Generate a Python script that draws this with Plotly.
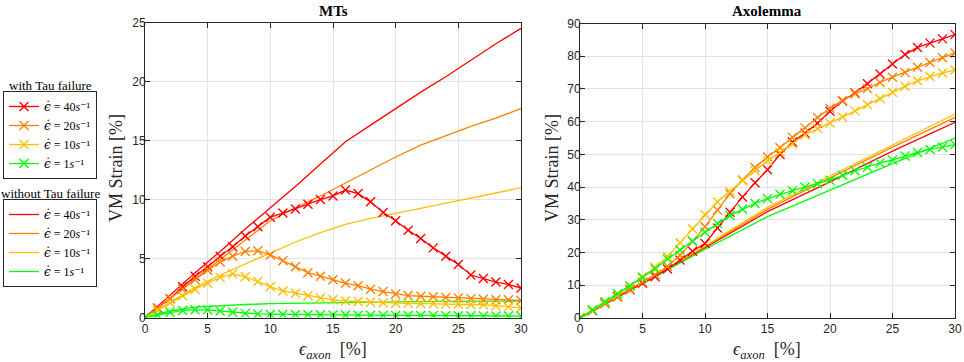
import plotly.graph_objects as go

# ---------------- data ----------------
strain_x = list(range(0, 31))

# MTs - with Tau failure (x markers)
mts_tau_40 = [0, 0.8, 1.6, 2.6, 3.5, 4.3, 5.2, 6.0, 6.9, 7.7, 8.5, 8.85, 9.2, 9.6, 10.0, 10.3, 10.8, 10.5,
              9.8, 8.9, 8.2, 7.4, 6.7, 5.9, 5.2, 4.5, 3.6, 3.3, 3.0, 2.8, 2.5]
mts_tau_20 = [0, 0.8, 1.6, 2.4, 3.2, 4.0, 4.7, 5.2, 5.6, 5.65, 5.3, 4.8, 4.3, 3.8, 3.5, 3.2, 2.9, 2.7,
              2.4, 2.2, 2.0, 1.86, 1.8, 1.75, 1.7, 1.65, 1.6, 1.55, 1.5, 1.5, 1.45]
mts_tau_10 = [0, 0.6, 1.25, 1.85, 2.4, 2.9, 3.4, 3.7, 3.45, 3.05, 2.6, 2.25, 2.05, 1.85, 1.65, 1.5, 1.4,
              1.35, 1.3, 1.25, 1.2, 1.2, 1.18, 1.16, 1.15, 1.13, 1.1, 1.08, 1.0, 0.9, 0.82]
mts_tau_1 = [0, 0.2, 0.45, 0.6, 0.65, 0.65, 0.55, 0.45, 0.35, 0.3, 0.28, 0.26, 0.25, 0.24, 0.23, 0.22,
             0.21, 0.2, 0.2, 0.19, 0.18, 0.17, 0.17, 0.16, 0.15, 0.15, 0.14, 0.13, 0.13, 0.12, 0.12]

# MTs - without Tau failure (solid)
solid_x = [0, 2, 4, 6, 8, 10, 12, 14, 16, 18, 20, 22, 24, 26, 28, 30]
mts_no_40 = [0, 1.9, 3.8, 5.6, 7.5, 9.3, 11.1, 13.0, 14.9, 16.3, 17.7, 19.1, 20.4, 21.8, 23.2, 24.5]
mts_no_20 = [0, 1.65, 3.3, 4.95, 6.6, 8.2, 9.3, 10.3, 11.4, 12.5, 13.6, 14.6, 15.4, 16.2, 16.9, 17.7]
mts_no_10 = [0, 1.3, 2.55, 3.6, 4.55, 5.5, 6.4, 7.2, 7.9, 8.4, 8.8, 9.25, 9.7, 10.1, 10.55, 11.0]
mts_no_1 = [0, 0.55, 0.88, 1.02, 1.1, 1.17, 1.21, 1.25, 1.28, 1.31, 1.33, 1.35, 1.36, 1.38, 1.39, 1.4]

# Axolemma - with Tau failure (x markers)
axo_tau_40 = [0, 2.2, 4.4, 6.5, 8.6, 10.6, 12.6, 15.0, 17.7, 20.4, 22.8, 27.5, 32.3, 37.0, 41.3, 45.3,
              50.0, 53.8, 56.5, 59.5, 63.2, 66.3, 68.8, 71.6, 74.6, 77.6, 80.5, 82.7, 84.0, 85.3, 86.6]
axo_tau_20 = [0, 2.2, 4.4, 6.6, 8.8, 11.0, 13.2, 15.8, 19.2, 23.4, 27.9, 33.0, 38.0, 42.2, 46.0, 49.2,
              52.0, 55.2, 58.1, 61.3, 64.1, 66.5, 68.5, 70.1, 72.0, 73.6, 75.0, 76.6, 78.1, 79.5, 81.0]
axo_tau_10 = [0, 2.3, 4.7, 7.1, 9.7, 12.6, 15.5, 18.8, 23.0, 27.3, 31.6, 35.5, 38.7, 42.0, 45.0, 48.0,
              50.6, 53.2, 56.0, 57.9, 59.6, 61.4, 63.3, 65.2, 67.0, 69.0, 70.8, 72.5, 73.8, 74.9, 75.8]
axo_tau_1 = [0, 2.5, 5.0, 7.4, 9.8, 12.3, 15.0, 18.0, 20.8, 23.5, 26.2, 28.9, 31.3, 33.2, 35.0, 36.5,
             37.8, 38.9, 40.0, 41.0, 42.1, 43.6, 45.0, 46.1, 47.4, 48.3, 49.5, 50.6, 51.5, 52.2, 53.0]

# Axolemma - without Tau failure (solid)
axo_solid_x = [0, 5, 10, 15, 20, 25, 30]
axo_no_40 = [0, 10.6, 21.5, 32.5, 41.6, 51.0, 59.8]
axo_no_20 = [0, 10.7, 21.8, 33.2, 42.8, 52.2, 61.3]
axo_no_10 = [0, 10.8, 22.0, 33.8, 43.4, 52.9, 62.3]
axo_no_1 = [0, 10.5, 21.0, 31.0, 39.2, 47.2, 55.0]

rate_labels = ["40", "20", "10", "1"]
colors = ["#FF0000", "#FF8000", "#FFBF00", "#00FF00"]

# ---------------- figure ----------------
W, H = 964, 362


def px(xp):
    return xp / W


def py(yp):
    return 1 - yp / H


fig = go.Figure()

serif = "Liberation Serif, DejaVu Serif, serif"
sans = "Liberation Sans, Arial, sans-serif"

mts_tau = [mts_tau_40, mts_tau_20, mts_tau_10, mts_tau_1]
mts_no = [mts_no_40, mts_no_20, mts_no_10, mts_no_1]
axo_tau = [axo_tau_40, axo_tau_20, axo_tau_10, axo_tau_1]
axo_no = [axo_no_40, axo_no_20, axo_no_10, axo_no_1]


def leg_name(r):
    return ('<span style="font-family:DejaVu Serif"><i>ϵ̇</i></span> = %s<i>s</i>⁻¹' % r)


# solid (without tau failure)
for i in range(4):
    fig.add_trace(go.Scatter(x=solid_x, y=mts_no[i], mode="lines",
                             line=dict(color=colors[i], width=1.3),
                             name=leg_name(rate_labels[i]), legend="legend2",
                             xaxis="x", yaxis="y"))
    fig.add_trace(go.Scatter(x=axo_solid_x, y=axo_no[i], mode="lines",
                             line=dict(color=colors[i], width=1.3),
                             showlegend=False, xaxis="x2", yaxis="y2"))

# with markers (with tau failure)
for i in range(4):
    mk = dict(symbol="x-thin", size=9, line=dict(color=colors[i], width=1.4), color=colors[i])
    fig.add_trace(go.Scatter(x=strain_x, y=mts_tau[i], mode="lines+markers",
                             line=dict(color=colors[i], width=1.3), marker=mk,
                             name=leg_name(rate_labels[i]), legend="legend",
                             xaxis="x", yaxis="y"))
    fig.add_trace(go.Scatter(x=strain_x, y=axo_tau[i], mode="lines+markers",
                             line=dict(color=colors[i], width=1.3), marker=mk,
                             showlegend=False, xaxis="x2", yaxis="y2"))

axis_common = dict(
    showgrid=True, gridcolor="#E3E3E3", gridwidth=1,
    showline=True, linecolor="#262626", linewidth=1, mirror="ticks",
    ticks="inside", ticklen=5, tickcolor="#262626",
    zeroline=False,
    tickfont=dict(family=sans, size=12, color="#262626"),
    automargin=False,
)

legend_common = dict(xanchor="left", yanchor="middle",
                     bgcolor="white", bordercolor="#262626", borderwidth=1,
                     font=dict(family=serif, size=12, color="black"),
                     tracegroupgap=0, itemwidth=30)

fig.update_layout(
    width=W, height=H,
    margin=dict(l=0, r=0, t=0, b=0),
    paper_bgcolor="white", plot_bgcolor="white",
    xaxis=dict(domain=[px(145), px(521)], range=[0, 30], tickvals=[0, 5, 10, 15, 20, 25, 30],
               anchor="y", **axis_common),
    yaxis=dict(domain=[py(317.5), py(22.5)], range=[0, 25], tickvals=[0, 5, 10, 15, 20, 25],
               anchor="x", ticklabelstandoff=-4, **axis_common),
    xaxis2=dict(domain=[px(580), px(955)], range=[0, 30], tickvals=[0, 5, 10, 15, 20, 25, 30],
                anchor="y2", **axis_common),
    yaxis2=dict(domain=[py(318), py(23.5)], range=[0, 90], tickvals=list(range(0, 91, 10)),
                anchor="x2", ticklabelstandoff=-4, **axis_common),
    legend=dict(x=px(3), y=py(135), **legend_common),
    legend2=dict(x=px(3), y=py(243), **legend_common),
    showlegend=True,
)

ann = []


def add_text(text, x, y, size, angle=0, color="black"):
    ann.append(dict(text=text, x=px(x), y=py(y), xref="paper", yref="paper",
                    xanchor="center", yanchor="middle", textangle=angle,
                    showarrow=False, font=dict(family=serif, size=size, color=color)))


add_text("<b>MTs</b>", 333, 11, 15)
add_text("<b>Axolemma</b>", 767, 11, 15)
for cx in (333, 767):
    add_text("<i>ϵ<sub>axon</sub></i>  [%]", cx, 350, 18, color="#262626")
for cx in (116, 552):
    add_text("VM Strain [%]", cx, 168, 18, angle=-90, color="#262626")
add_text("with Tau failure", 50, 86, 13)
add_text("without Tau failure", 50, 193, 13)
fig.update_layout(annotations=ann)

fig.write_html("out.html", config={"displayModeBar": False},
               post_script="document.body.style.margin='0px';document.body.style.overflow='hidden';")
